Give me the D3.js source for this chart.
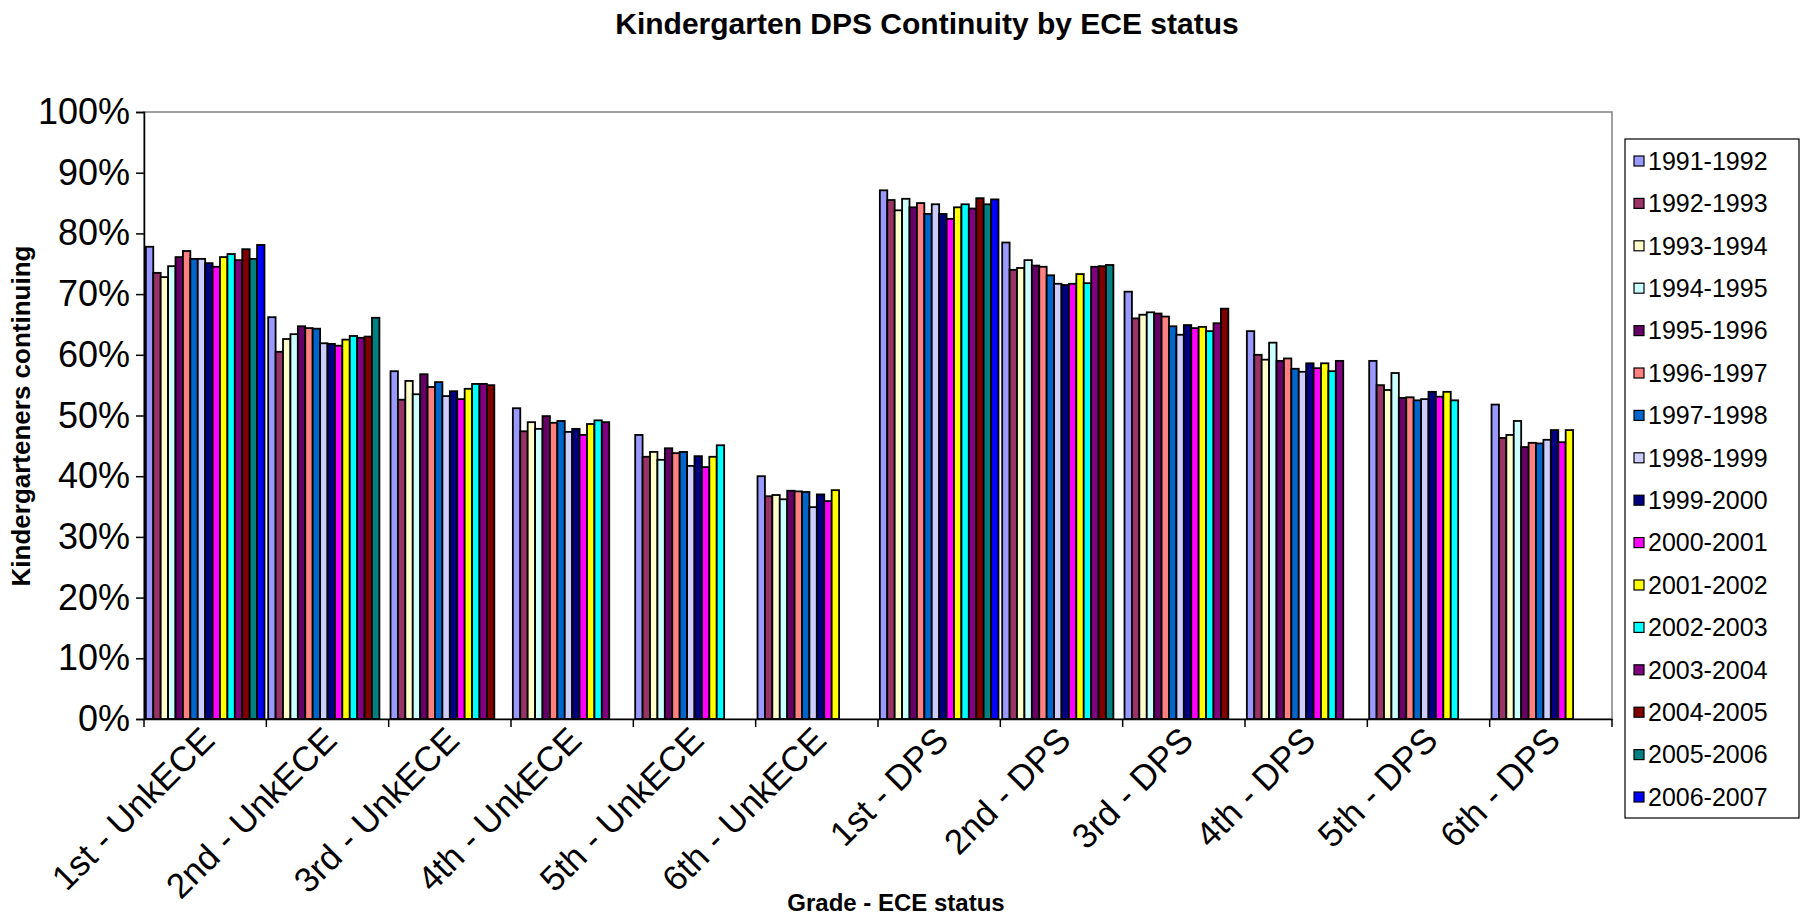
<!DOCTYPE html>
<html><head><meta charset="utf-8">
<script src="https://cdn.jsdelivr.net/npm/d3@7"></script>
<style>body{margin:0;background:#fff;} text{font-family:Arial,"Liberation Sans",sans-serif;fill:#000;}</style>
</head><body><svg id="c" width="1812" height="918"></svg>
<script>
const categories = ["1st - UnkECE","2nd - UnkECE","3rd - UnkECE","4th - UnkECE","5th - UnkECE","6th - UnkECE","1st - DPS","2nd - DPS","3rd - DPS","4th - DPS","5th - DPS","6th - DPS"];
const seriesNames = ["1991-1992","1992-1993","1993-1994","1994-1995","1995-1996","1996-1997","1997-1998","1998-1999","1999-2000","2000-2001","2001-2002","2002-2003","2003-2004","2004-2005","2005-2006","2006-2007"];
const seriesColors = ["#9999FF","#993366","#FFFFCC","#CCFFFF","#660066","#FF8080","#0066CC","#CCCCFF","#000080","#FF00FF","#FFFF00","#00FFFF","#800080","#800000","#008080","#0000FF"];
const s1991 = [77.8,66.2,57.3,51.2,46.8,40.0,87.1,78.5,70.4,63.9,59.0,51.8];
const s1992 = [73.5,60.5,52.6,47.4,43.2,36.7,85.5,74.0,66.0,60.0,55.0,46.3];
const s1993 = [72.8,62.6,55.7,48.9,44.0,36.9,83.8,74.3,66.6,59.2,54.2,46.8];
const s1994 = [74.6,63.4,53.5,47.8,42.7,36.2,85.7,75.6,67.0,62.0,57.0,49.1];
const s1995 = [76.1,64.7,56.8,49.9,44.6,37.6,84.3,74.7,66.8,59.0,52.9,44.8];
const s1996 = [77.1,64.4,54.7,48.8,43.8,37.5,85.0,74.5,66.3,59.4,53.0,45.5];
const s1997 = [75.8,64.3,55.5,49.1,44.0,37.4,83.2,73.1,64.7,57.7,52.5,45.4];
const s1998 = [75.8,61.9,53.2,47.3,41.7,34.9,84.8,71.7,63.3,57.2,52.7,46.0];
const s1999 = [75.1,61.8,54.0,47.8,43.3,37.0,83.2,71.5,64.9,58.6,53.9,47.6];
const s2000 = [74.5,61.5,52.7,46.8,41.5,35.9,82.4,71.7,64.4,57.8,53.1,45.6];
const s2001 = [76.1,62.5,54.4,48.6,43.2,37.7,84.3,73.3,64.6,58.6,53.9,47.6];
const s2002 = [76.6,63.1,55.2,49.2,45.1,null,84.8,71.8,63.9,57.3,52.5,null];
const s2003 = [75.6,62.8,55.2,48.9,null,null,84.1,74.5,65.2,59.0,null,null];
const s2004 = [77.4,63.0,55.0,null,null,null,85.8,74.6,67.6,null,null,null];
const s2005 = [75.8,66.1,null,null,null,null,84.8,74.8,null,null,null,null];
const s2006 = [78.1,null,null,null,null,null,85.6,null,null,null,null,null];
const yTicks = [0,10,20,30,40,50,60,70,80,90,100];
const titleText = "Kindergarten DPS Continuity by ECE status";
const xTitle = "Grade - ECE status";
const yTitle = "Kindergarteners continuing";

const seriesValues = [s1991,s1992,s1993,s1994,s1995,s1996,s1997,s1998,s1999,s2000,s2001,s2002,s2003,s2004,s2005,s2006];

const svg = d3.select("#c");
const L = 144, R = 1612, T = 112, B = 719;

const x0 = d3.scaleBand().domain(categories).range([L, R]).paddingInner(0).paddingOuter(0);
const x1 = d3.scaleBand().domain(seriesNames).range([0, x0.bandwidth()]).paddingInner(0).paddingOuter(0.25);
const y = d3.scaleLinear().domain([0, 100]).range([B, T]);

// plot area border
svg.append("rect").attr("x", L).attr("y", T).attr("width", R - L).attr("height", B - T)
  .attr("fill", "none").attr("stroke", "#808080").attr("stroke-width", 1.5);

// bars
const groups = svg.append("g").selectAll("g").data(seriesNames).join("g")
  .attr("fill", (d, i) => seriesColors[i]);
groups.each(function(name, si) {
  const data = categories.map((c, ci) => ({c, v: seriesValues[si][ci]})).filter(d => d.v != null);
  d3.select(this).selectAll("rect").data(data).join("rect")
    .attr("x", d => x0(d.c) + x1(name))
    .attr("y", d => y(d.v))
    .attr("width", x1.bandwidth())
    .attr("height", d => y(0) - y(d.v))
    .attr("stroke", "#000").attr("stroke-width", 1.8);
});

// y axis
const yAxis = d3.axisLeft(y).tickValues(yTicks).tickFormat(d => d + "%").tickSize(8).tickPadding(6);
const ga = svg.append("g").attr("transform", `translate(${L},0)`).call(yAxis);
ga.select(".domain").attr("stroke", "#000").attr("stroke-width", 1.5);
ga.selectAll(".tick line").attr("stroke", "#000").attr("stroke-width", 1.5);
ga.selectAll(".tick text").attr("font-size", 36).attr("font-family", "Arial, 'Liberation Sans', sans-serif");

// x axis
const xAxis = d3.axisBottom(x0).tickSize(0).tickFormat("");
const gx = svg.append("g").attr("transform", `translate(0,${B})`).call(xAxis);
gx.select(".domain").attr("stroke", "#000").attr("stroke-width", 1.5);
const bounds = categories.map(c => x0(c)).concat([R]);
svg.append("g").selectAll("line").data(bounds).join("line")
  .attr("x1", d => d).attr("x2", d => d).attr("y1", B).attr("y2", B + 8)
  .attr("stroke", "#000").attr("stroke-width", 1.5);
svg.append("g").selectAll("text").data(categories).join("text")
  .attr("transform", d => `translate(${x0(d) + x0.bandwidth() / 2 - 6},${B + 6}) rotate(-45)`)
  .attr("text-anchor", "end").attr("dy", "0.7em")
  .attr("font-size", 35).text(d => d);

// titles
svg.append("text").attr("x", 927).attr("y", 34).attr("text-anchor", "middle")
  .attr("font-weight", "bold").attr("font-size", 30).text(titleText);
svg.append("text").attr("x", 896).attr("y", 911).attr("text-anchor", "middle")
  .attr("font-weight", "bold").attr("font-size", 24).text(xTitle);
svg.append("text").attr("transform", "translate(30,416) rotate(-90)").attr("text-anchor", "middle")
  .attr("font-weight", "bold").attr("font-size", 26).text(yTitle);

// legend
const lg = svg.append("g");
lg.append("rect").attr("x", 1625).attr("y", 139).attr("width", 174).attr("height", 679)
  .attr("fill", "#fff").attr("stroke", "#000").attr("stroke-width", 1.2);
const items = lg.selectAll("g.item").data(seriesNames).join("g").attr("class", "item")
  .attr("transform", (d, i) => `translate(1634,${161 + i * 42.4})`);
items.append("rect").attr("x", 0).attr("y", -5).attr("width", 10).attr("height", 10)
  .attr("fill", (d, i) => seriesColors[i]).attr("stroke", "#000").attr("stroke-width", 1.2);
items.append("text").attr("x", 14).attr("dy", "0.35em").attr("font-size", 25).text(d => d);
</script></body></html>
